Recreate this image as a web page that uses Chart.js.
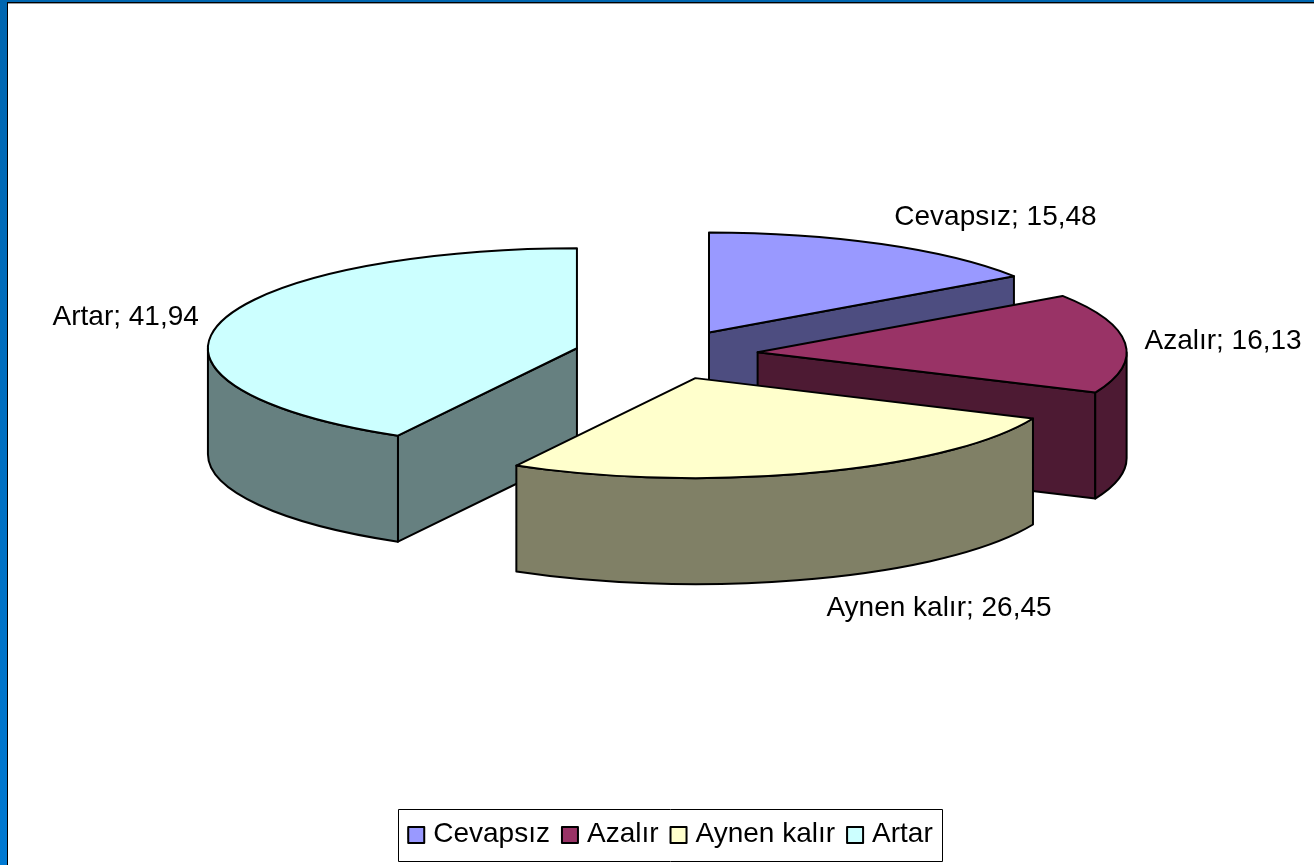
<!DOCTYPE html>
<html><head><meta charset="utf-8">
<style>
html,body{margin:0;padding:0;width:1314px;height:865px;overflow:hidden;background:linear-gradient(180deg,#0066b0,#0079d2)}
#sheet{position:absolute;left:7px;top:2px;width:1307px;height:863px;box-sizing:border-box;background:#fff;border-left:1px solid #000;border-top:1px solid #000;box-shadow:inset 0 1px 0 #999}
#c{position:absolute;left:0;top:0;display:block}
</style>
<script src="https://cdn.jsdelivr.net/npm/chart.js@4"></script>
</head><body>
<div id="sheet"></div>
<canvas id="c" width="1314" height="865"></canvas>
<script>
const categories = ['Cevapsız', 'Azalır', 'Aynen kalır', 'Artar'];
const values = [15.48, 16.13, 26.45, 41.94];
const topColors = ['#9999FF', '#993366', '#FFFFCC', '#CCFFFF'];
const wallColors = ['#4D4D80', '#4D1A33', '#808066', '#668080'];
const paintOrder = [0, 3, 1, 2];
const labelNudges = [[114, -27], [98, -2], [126, 135], [-94, -6]];

const CX = 666, CY = 354.5, RADIUS = 369, EXPLODE = 92, SQUASH = 0.271, DEPTH = 106, EDGE = 2;
const FONT = 'Liberation Sans, Arial, sans-serif';
const LEGEND_FRAME_SHIFT = 1;

function sliceGeom(arc) {
  const mid = (arc.startAngle + arc.endAngle) / 2, off = arc.options.offset;
  return {
    a0: arc.startAngle, a1: arc.endAngle, r: arc.outerRadius,
    ox: CX + Math.cos(mid) * off,
    oy: CY + Math.sin(mid) * off * SQUASH
  };
}
function paint(ctx, fill, trace) {
  ctx.beginPath(); trace(); ctx.closePath();
  ctx.fillStyle = fill; ctx.fill();
  ctx.strokeStyle = '#000'; ctx.lineWidth = EDGE; ctx.lineJoin = 'round'; ctx.stroke();
}
const solidPie = {
  id: 'solidPie',
  beforeDatasetDraw(chart, args) {
    const ctx = chart.ctx, arcs = args.meta.data;
    paintOrder.forEach(i => {
      const g = sliceGeom(arcs[i]), ry = g.r * SQUASH;
      const px = a => g.ox + Math.cos(a) * g.r, py = a => g.oy + Math.sin(a) * ry;
      const radialWall = a => paint(ctx, wallColors[i], () => {
        ctx.moveTo(g.ox, g.oy); ctx.lineTo(px(a), py(a));
        ctx.lineTo(px(a), py(a) + DEPTH); ctx.lineTo(g.ox, g.oy + DEPTH);
      });
      if (Math.cos(g.a0) < -1e-6) radialWall(g.a0);
      if (Math.cos(g.a1) > 1e-6) radialWall(g.a1);
      for (const k of [0, 2]) {
        const from = Math.max(g.a0, k * Math.PI), to = Math.min(g.a1, (k + 1) * Math.PI);
        if (to > from) paint(ctx, wallColors[i], () => {
          ctx.ellipse(g.ox, g.oy, g.r, ry, 0, from, to);
          ctx.lineTo(px(to), py(to) + DEPTH);
          ctx.ellipse(g.ox, g.oy + DEPTH, g.r, ry, 0, to, from, true);
        });
      }
      paint(ctx, topColors[i], () => {
        ctx.moveTo(g.ox, g.oy);
        ctx.ellipse(g.ox, g.oy, g.r, ry, 0, g.a0, g.a1);
      });
    });
    return false;
  },
  afterDatasetsDraw(chart) {
    const ctx = chart.ctx, arcs = chart.getDatasetMeta(0).data;
    ctx.save();
    ctx.font = '28px ' + FONT; ctx.fillStyle = '#000';
    ctx.textAlign = 'center'; ctx.textBaseline = 'middle';
    arcs.forEach((arc, i) => {
      const g = sliceGeom(arc), mid = (g.a0 + g.a1) / 2;
      const x = g.ox + Math.cos(mid) * g.r + labelNudges[i][0];
      const y = g.oy + Math.sin(mid) * g.r * SQUASH + labelNudges[i][1];
      ctx.fillText(categories[i] + '; ' + String(values[i]).replace('.', ','), x, y);
    });
    ctx.restore();
  },
  afterDraw(chart) {
    const legend = chart.legend, boxes = legend.legendHitBoxes, ctx = chart.ctx;
    const first = boxes[0], last = boxes[boxes.length - 1];
    const mid = first.top + first.height / 2 + LEGEND_FRAME_SHIFT;
    ctx.save();
    ctx.strokeStyle = '#000'; ctx.lineWidth = 1;
    ctx.strokeRect(Math.round(first.left) - 9.5, Math.round(mid - 26) + .5,
      Math.round(last.left + last.width - first.left) + 19, 52);
    ctx.lineWidth = 2;
    boxes.forEach((b, i) => {
      ctx.fillStyle = legend.legendItems[i].fillStyle;
      ctx.fillRect(b.left, mid - 8, 16, 16);
      ctx.strokeRect(b.left, mid - 8, 16, 16);
    });
    ctx.restore();
  }
};

new Chart(document.getElementById('c'), {
  type: 'pie',
  plugins: [solidPie],
  data: {
    labels: categories,
    datasets: [{
      data: values,
      backgroundColor: topColors,
      borderColor: '#000',
      borderWidth: 0,
      offset: EXPLODE
    }]
  },
  options: {
    responsive: false,
    animation: false,
    radius: RADIUS,
    layout: { padding: { left: 27, bottom: 7 } },
    plugins: {
      tooltip: { enabled: false },
      legend: {
        position: 'bottom',
        labels: {
          boxWidth: 11, boxHeight: 11, padding: 12,
          color: '#000',
          font: { family: FONT, size: 28 },
          generateLabels(chart) {
            return Chart.overrides.pie.plugins.legend.labels.generateLabels(chart)
              .map(item => Object.assign(item, { strokeStyle: '#000', lineWidth: 1 }));
          }
        }
      }
    }
  }
});
</script>
</body></html>
